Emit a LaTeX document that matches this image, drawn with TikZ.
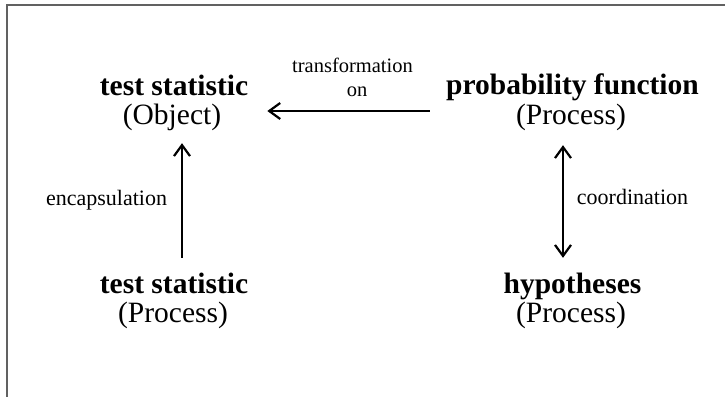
\documentclass[tikz,border=0pt]{standalone}
\usepackage{fontspec}
\setmainfont{Liberation Serif}
\usetikzlibrary{arrows.meta}
\begin{document}
\begin{tikzpicture}[x=1pt,y=-1pt,
  title/.style={font=\bfseries\fontsize{29.5}{30}\selectfont, inner sep=0pt, text height=20pt, text depth=6pt, anchor=base},
  sub/.style={font=\fontsize{29.5}{30}\selectfont, inner sep=0pt, text height=20pt, text depth=7pt, anchor=base},
  lbl/.style={font=\fontsize{20.5}{24}\selectfont, inner sep=0pt, anchor=base},
  slbl/.style={font=\fontsize{22}{24}\selectfont, inner sep=0pt, anchor=base},
  arr/.style={line width=2.2pt, -{Straight Barb[length=11pt,width=16pt,line width=2.2pt]}},
  darr/.style={line width=2.2pt, {Straight Barb[length=11pt,width=16pt,line width=2.2pt]}-{Straight Barb[length=11pt,width=16pt,line width=2.2pt]}},
  frame/.style={draw=black!62, line width=1.6pt}]
\useasboundingbox (0,0) rectangle (725,397);
\fill[white] (0,0) rectangle (725,397);
\draw[frame] (725,5) -- (7,5) -- (7,397);

\node[title] (tso) at (174,95) {test statistic};
\node[sub] (tso2) at (172,124) {(Object)};
\node[title] (pf) at (572.5,94) {probability function};
\node[sub] (pf2) at (571,124) {(Process)};
\node[title] (tsp) at (174,293) {test statistic};
\node[sub] (tsp2) at (173,322) {(Process)};
\node[title] (hy) at (572.5,293) {hypotheses};
\node[sub] (hy2) at (571,322) {(Process)};

\node[lbl] (lt) at (352.5,72) {transformation};
\node[lbl] (lo) at (357,96) {on};
\node[slbl] (le) at (106.5,205) {encapsulation};
\node[slbl] (lc) at (632.5,204) {coordination};

% horizontal arrow
\coordinate (hs) at ([xshift=-16pt,yshift=-17pt]pf.base west);
\draw[arr, shorten >=19pt] (hs) -- (hs -| tso.east);

% left vertical
\coordinate (vs) at ([xshift=8pt]tsp.north);
\draw[arr, shorten <=15pt, shorten >=12pt] (vs) -- (vs |- tso2.south);

% right vertical
\coordinate (rs) at ([xshift=-8pt]pf2.south);
\draw[darr, shorten <=14pt, shorten >=15pt] (rs) -- (rs |- hy.north);
\end{tikzpicture}
\end{document}
